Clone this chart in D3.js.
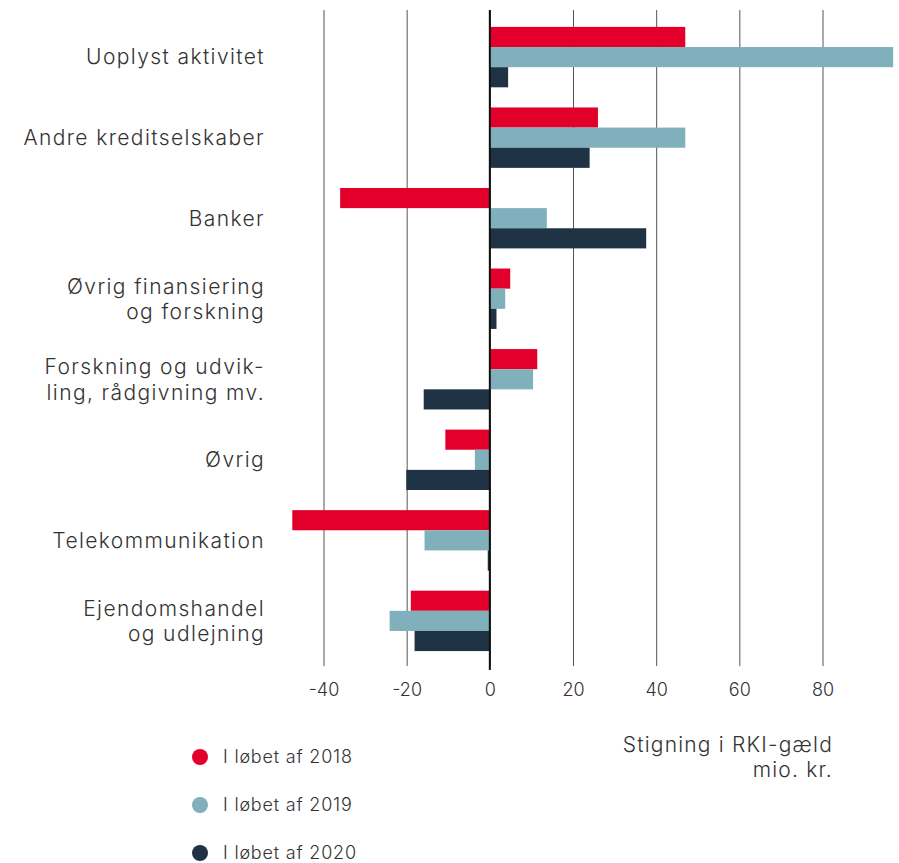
<!DOCTYPE html>
<html>
<head>
<meta charset="utf-8">
<script src="https://cdn.jsdelivr.net/npm/d3@7"></script>
<style>
    body { margin: 0; background: #fff; }
    svg text { font-family: Inter, "Noto Sans", sans-serif; font-weight: 300; fill: #333; }
</style>
</head>
<body>
<svg width="899" height="863"></svg>
<script>
// categories, top to bottom (label lines)
let categories = [
    ["Uoplyst aktivitet"],
    ["Andre kreditselskaber"],
    ["Banker"],
    ["Øvrig finansiering", "og forskning"],
    ["Forskning og udvik-", "ling, rådgivning mv."],
    ["Øvrig"],
    ["Telekommunikation"],
    ["Ejendomshandel", "og udlejning"]
];
let series = ["I løbet af 2018", "I løbet af 2019", "I løbet af 2020"];
let values2018 = [47, 26, -36, 4.9, 11.4, -10.7, -47.5, -19];
let values2019 = [97, 47, 13.7, 3.7, 10.4, -3.6, -15.7, -24.1];
let values2020 = [4.4, 24, 37.6, 1.6, -15.9, -20.1, -0.5, -18.1];
let ticks = [-40, -20, 0, 20, 40, 60, 80];
let colors = ["#e2002b", "#7fb0bb", "#1f3345"];

function draw() {
    let svg = d3.select("svg");
    let allValues = [values2018, values2019, values2020];

    let x = d3.scaleLinear().domain([-40, 80]).range([323.5, 822.5]);
    let y0 = d3.scaleBand()
        .domain(d3.range(categories.length))
        .range([10, 668])
        .paddingInner(0.25)
        .paddingOuter(0.21);
    let y1 = d3.scaleBand()
        .domain(d3.range(series.length))
        .range([0, y0.bandwidth()]);

    // vertical gridlines with ticks below
    let axis = svg.append("g")
        .attr("transform", "translate(0,10)")
        .call(d3.axisBottom(x)
            .tickValues(ticks)
            .tickSize(656)
            .tickPadding(17)
            .tickFormat(d => d));
    axis.select(".domain").remove();
    axis.selectAll(".tick line")
        .attr("stroke", "#555")
        .attr("stroke-width", 1);
    axis.selectAll(".tick text")
        .attr("font-size", 18)
        .attr("fill", "#444");

    // bars
    let group = svg.append("g").selectAll("g")
        .data(categories)
        .join("g")
        .attr("transform", (d, i) => `translate(0,${y0(i)})`);

    group.selectAll("rect")
        .data((d, i) => allValues.map((vals, s) => ({s: s, v: vals[i]})))
        .join("rect")
        .attr("x", d => x(Math.min(0, d.v)))
        .attr("y", d => y1(d.s))
        .attr("width", d => Math.abs(x(d.v) - x(0)))
        .attr("height", y1.bandwidth())
        .attr("fill", d => colors[d.s]);

    // zero line
    svg.append("line")
        .attr("x1", x(0)).attr("x2", x(0))
        .attr("y1", 10).attr("y2", 670)
        .attr("stroke", "#111")
        .attr("stroke-width", 2);

    // category labels
    let labels = svg.append("g").selectAll("text")
        .data(categories)
        .join("text")
        .attr("text-anchor", "end")
        .attr("font-size", 21)
        .attr("letter-spacing", 1.4)
        .attr("x", 265)
        .attr("y", (d, i) => y0(i) + y0.bandwidth() / 2 - (d.length - 1) * 12.5);
    labels.selectAll("tspan")
        .data(d => d)
        .join("tspan")
        .attr("x", 265)
        .attr("dy", (d, j) => j == 0 ? "0.35em" : 25.5)
        .text(d => d);

    // axis title
    let title = svg.append("text")
        .attr("text-anchor", "end")
        .attr("font-size", 21)
        .attr("letter-spacing", 1.2);
    title.append("tspan").attr("x", 833).attr("y", 752).text("Stigning i RKI-gæld");
    title.append("tspan").attr("x", 833).attr("y", 777).text("mio. kr.");

    // legend
    let legend = svg.append("g").selectAll("g")
        .data(series)
        .join("g")
        .attr("transform", (d, i) => `translate(200,${757 + i * 48})`);
    legend.append("circle")
        .attr("r", 8)
        .attr("fill", (d, i) => colors[i]);
    legend.append("text")
        .attr("x", 23)
        .attr("dy", "0.35em")
        .attr("font-size", 18)
        .attr("letter-spacing", 0.8)
        .text(d => d);
}

draw();
</script>
</body>
</html>
